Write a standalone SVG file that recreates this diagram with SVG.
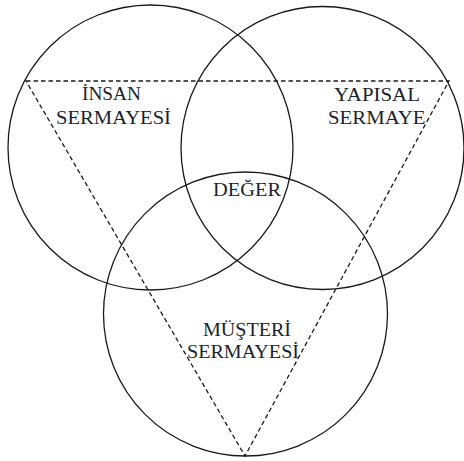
<svg xmlns="http://www.w3.org/2000/svg" width="464" height="461" viewBox="0 0 464 461">
<style>
.c{fill:none;stroke:#1a1a1a;stroke-width:1.3}
.d{fill:none;stroke:#1a1a1a;stroke-width:1.3;stroke-dasharray:4.5 3}
.t{font-family:"Liberation Serif","Times New Roman",serif;font-size:19.5px;fill:#1a1f2e}
</style>
<rect width="464" height="461" fill="#fff"/>
<g id="connectors">
<polygon class="d" points="26,81 449,81 245,456"/>
</g>
<g id="insan">
<circle class="c" cx="150.5" cy="147.5" r="142.5"/>
<text class="t" x="82" y="100" textLength="59" lengthAdjust="spacingAndGlyphs">İNSAN</text>
<text class="t" x="56" y="124" textLength="115" lengthAdjust="spacingAndGlyphs">SERMAYESİ</text>
</g>
<g id="yapisal">
<circle class="c" cx="322.5" cy="148" r="141.5"/>
<text class="t" x="334" y="101" textLength="86" lengthAdjust="spacingAndGlyphs">YAPISAL</text>
<text class="t" x="328" y="123.5" textLength="97.5" lengthAdjust="spacingAndGlyphs">SERMAYE</text>
</g>
<g id="musteri">
<circle class="c" cx="245.5" cy="314" r="142"/>
<text class="t" x="203" y="336" textLength="88" lengthAdjust="spacingAndGlyphs">MÜŞTERİ</text>
<text class="t" x="187" y="358" textLength="112" lengthAdjust="spacingAndGlyphs">SERMAYESİ</text>
</g>
<g id="deger">
<text class="t" x="213" y="196" textLength="68" lengthAdjust="spacingAndGlyphs">DEĞER</text>
</g>
</svg>
